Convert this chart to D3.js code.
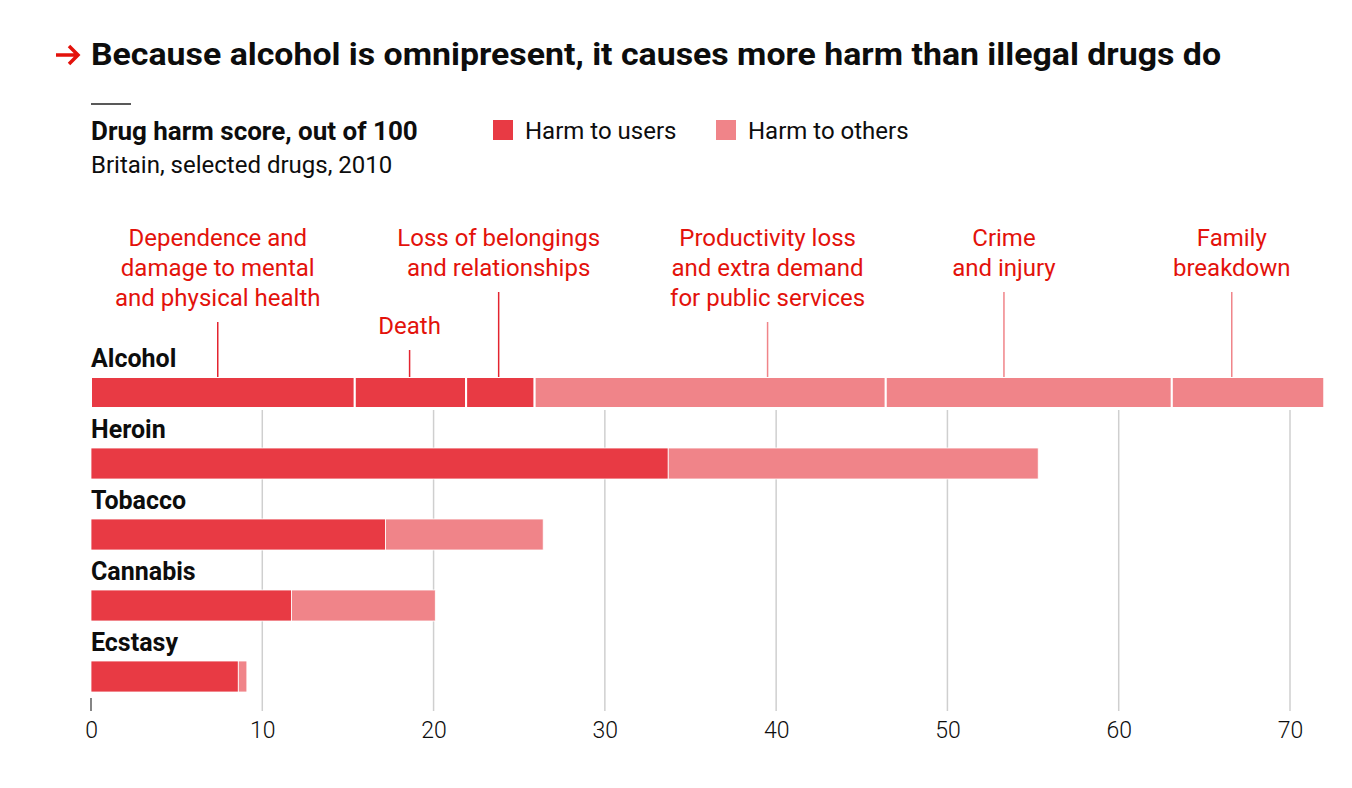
<!DOCTYPE html>
<html lang="en">
<head>
    <meta charset="UTF-8">
    <title>Drug harm score</title>
    <script src="https://d3js.org/d3.v7.min.js"></script>
    <style>
        body { margin: 0; background: #fff; }
        text { font-family: Roboto, "Noto Sans", sans-serif; }
    </style>
</head>
<body>
    <svg id="chart"></svg>

    <script>
        // Data
        const drugs = ["Alcohol", "Heroin", "Tobacco", "Cannabis", "Ecstasy"];
        const harmUsers = [25.9, 33.7, 17.2, 11.7, 8.6];
        const harmOthers = [46.1, 21.6, 9.2, 8.4, 0.5];

        // Alcohol broken into its harm components
        const alcoholParts = [15.4, 6.5, 4.0, 20.5, 16.7, 8.9];
        const alcoholGroups = ["users", "users", "users", "others", "others", "others"];
        const alcoholLabels = [
            ["Dependence and", "damage to mental", "and physical health"],
            ["Death"],
            ["Loss of belongings", "and relationships"],
            ["Productivity loss", "and extra demand", "for public services"],
            ["Crime", "and injury"],
            ["Family", "breakdown"]
        ];
        const labelAnchors = [7.4, 18.6, 23.8, 39.5, 53.3, 66.6];

        const tickValues = [0, 10, 20, 30, 40, 50, 60, 70];

        const colors = { users: "#e83a44", others: "#f08489" };
        const red = "#e3120b";

        const width = 1352, height = 788;
        const svg = d3.select("#chart")
            .attr("width", width)
            .attr("height", height);

        const x = d3.scaleLinear().domain([0, 70]).range([91, 1290]);
        const y = d3.scaleBand().domain(drugs).range([340, 695]);
        const barTop = 37, barH = 31, labelBase = 27;
        const gridTop = 410, gridBottom = 711;

        // Title with red arrow
        svg.append("path")
            .attr("d", "M56,55 H78 M69,46 L78,55 L69,64")
            .attr("fill", "none")
            .attr("stroke", red).attr("stroke-width", 3.5)
            .attr("stroke-linejoin", "miter");
        svg.append("text")
            .attr("x", 91).attr("y", 65)
            .attr("font-size", 32).attr("font-weight", 700)
            .attr("fill", "#0d0d0d")
            .attr("textLength", 1130).attr("lengthAdjust", "spacingAndGlyphs")
            .text("Because alcohol is omnipresent, it causes more harm than illegal drugs do");

        svg.append("line")
            .attr("x1", 91).attr("x2", 131).attr("y1", 104).attr("y2", 104)
            .attr("stroke", "#222").attr("stroke-width", 1.5);

        svg.append("text")
            .attr("x", 91).attr("y", 140)
            .attr("font-size", 26).attr("font-weight", 700)
            .attr("fill", "#0d0d0d")
            .text("Drug harm score, out of 100");
        svg.append("text")
            .attr("x", 91).attr("y", 173)
            .attr("font-size", 24)
            .attr("fill", "#0d0d0d")
            .text("Britain, selected drugs, 2010");

        // Legend
        const legend = [
            { key: "users", label: "Harm to users", x: 493 },
            { key: "others", label: "Harm to others", x: 716 }
        ];
        const lg = svg.append("g").selectAll("g").data(legend).join("g")
            .attr("transform", d => `translate(${d.x},120)`);
        lg.append("rect").attr("width", 20).attr("height", 20)
            .attr("fill", d => colors[d.key]);
        lg.append("text").attr("x", 32).attr("y", 19)
            .attr("font-size", 24).attr("fill", "#0d0d0d")
            .text(d => d.label);

        // Gridlines (behind bars)
        svg.append("g").selectAll("line")
            .data(tickValues.filter(d => d > 0))
            .join("line")
            .attr("x1", d => x(d)).attr("x2", d => x(d))
            .attr("y1", gridTop).attr("y2", gridBottom)
            .attr("stroke", "#cfcfcf").attr("stroke-width", 1.5);
        svg.append("line")
            .attr("x1", x(0)).attr("x2", x(0))
            .attr("y1", gridBottom - 13).attr("y2", gridBottom)
            .attr("stroke", "#333").attr("stroke-width", 1.2);

        // Axis labels
        const axis = svg.append("g")
            .attr("transform", `translate(0,${gridBottom + 7})`)
            .call(d3.axisBottom(x).tickValues(tickValues).tickSize(0).tickPadding(4));
        axis.select(".domain").remove();
        axis.selectAll("text")
            .attr("font-size", 23).attr("fill", "#0d0d0d")
            .style("font-family", "Roboto, 'Noto Sans', sans-serif")
            .style("font-weight", 300);

        // Drug labels
        svg.append("g").selectAll("text").data(drugs).join("text")
            .attr("x", 91).attr("y", d => y(d) + labelBase)
            .attr("font-size", 25).attr("font-weight", 700)
            .attr("fill", "#0d0d0d")
            .text(d => d);

        // Bars for non-alcohol drugs
        const rows = drugs.map((d, i) => ({ drug: d, users: harmUsers[i], others: harmOthers[i] }));
        const stack = d3.stack().keys(["users", "others"])(rows);
        svg.append("g").selectAll("g").data(stack).join("g")
            .attr("fill", s => colors[s.key])
            .selectAll("rect")
            .data(s => s.filter(d => d.data.drug !== "Alcohol"))
            .join("rect")
            .attr("x", d => x(d[0]))
            .attr("width", d => x(d[1]) - x(d[0]))
            .attr("y", d => y(d.data.drug) + barTop)
            .attr("height", barH)
            .attr("stroke", "#fff").attr("stroke-width", 0.8);

        // Alcohol split into components
        let acc = 0;
        const parts = alcoholParts.map((v, i) => {
            const p = { x0: acc, x1: acc + v, group: alcoholGroups[i], lines: alcoholLabels[i], anchor: labelAnchors[i] };
            acc += v;
            return p;
        });
        svg.append("g").selectAll("rect").data(parts).join("rect")
            .attr("x", d => x(d.x0))
            .attr("width", d => x(d.x1) - x(d.x0))
            .attr("y", y("Alcohol") + barTop)
            .attr("height", barH)
            .attr("fill", d => colors[d.group])
            .attr("stroke", "#fff").attr("stroke-width", 2);

        // Annotations
        const lineH = 30, firstBase = 246;
        const dropDown = (d, i) => (i === 1 ? 88 : 0); // "Death" sits lower
        const ann = svg.append("g").selectAll("g").data(parts).join("g");
        ann.append("text")
            .attr("text-anchor", "middle")
            .attr("font-size", 24).attr("fill", red)
            .attr("transform", (d, i) => `translate(${x(d.anchor)},${firstBase + dropDown(d, i)})`)
            .selectAll("tspan").data(d => d.lines).join("tspan")
            .attr("x", 0).attr("y", (t, j) => j * lineH)
            .text(t => t);
        ann.append("line")
            .attr("x1", d => x(d.anchor)).attr("x2", d => x(d.anchor))
            .attr("y1", (d, i) => firstBase + dropDown(d, i) + (d.lines.length - 1) * lineH + 16)
            .attr("y2", y("Alcohol") + barTop)
            .attr("stroke", d => d.group === "users" ? "#e3242f" : colors.others)
            .attr("stroke-width", 1.5);
    </script>
</body>
</html>
